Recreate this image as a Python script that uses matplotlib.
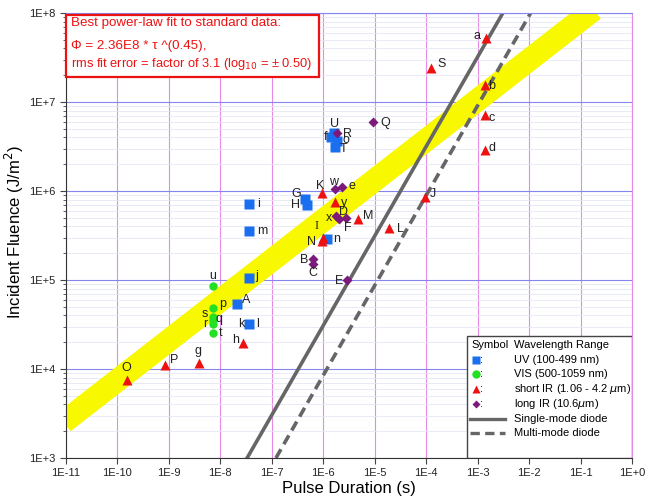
import numpy as np
import matplotlib
matplotlib.use("Agg")
import matplotlib.pyplot as plt
from matplotlib.lines import Line2D
from matplotlib.patches import Rectangle
from matplotlib.ticker import FixedLocator, FixedFormatter

plt.rcParams['font.family'] = ['Liberation Sans', 'DejaVu Sans']

# ---- data (pulse duration s, fluence J/m2) ----
uv_labels = ['i', 'm', 'j', 'A', 'k', 'G', 'H', 'U', 'f', 'o', 'T', 'n']
uv_tau = [3.6e-8, 3.6e-8, 3.6e-8, 2.08e-8, 3.6e-8, 4.4e-7, 4.8e-7, 1.62e-6, 1.42e-6, 1.85e-6, 1.69e-6, 1.18e-6]
uv_flu = [7.1e5, 3.56e5, 1.06e5, 5.33e4, 3.2e4, 8.1e5, 6.97e5, 4.49e6, 4.04e6, 3.65e6, 3.12e6, 2.89e5]

vis_labels = ['u', 'p', 's', 'q', 'r', 't']
vis_tau = [7.1e-9, 7.1e-9, 7.1e-9, 7.1e-9, 7.1e-9, 7.1e-9]
vis_flu = [8.63e4, 4.89e4, 3.84e4, 3.56e4, 3.21e4, 2.54e4]

sir_labels = ['O', 'P', 'g', 'h', 'K', 'y', 'M', 'L', 'I', 'N', 'a', 'S', 'b', 'c', 'd', 'J']
sir_tau = [1.51e-10, 8.5e-10, 3.8e-9, 2.79e-8, 9.57e-7, 1.69e-6, 4.8e-6, 1.92e-5, 9.9e-7, 9.5e-7,
           1.46e-3, 1.22e-4, 1.41e-3, 1.41e-3, 1.41e-3, 9.5e-5]
sir_flu = [7.5e3, 1.11e4, 1.16e4, 1.98e4, 9.57e5, 7.59e5, 4.81e5, 3.81e5, 2.95e5, 2.75e5,
           5.27e7, 2.39e7, 1.55e7, 7.15e6, 2.89e6, 8.63e5]

lir_labels = ['Q', 'R', 'w', 'e', 'x', 'D', 'F', 'B', 'C', 'E']
lir_tau = [9.4e-6, 1.87e-6, 1.69e-6, 2.34e-6, 1.77e-6, 2.02e-6, 2.77e-6, 6.41e-7, 6.41e-7, 2.86e-6]
lir_flu = [6.01e6, 4.45e6, 1.05e6, 1.12e6, 5.24e5, 4.84e5, 4.91e5, 1.71e5, 1.51e5, 1.0e5]

# power-law fit  Phi = 2.36E8 * tau^0.45
fit_coef = 2.36e8
fit_exp = 0.45
band_tau = [9e-12, 1.8e-1]

# diode damage lines
single_tau = [10 ** -7.48, 10 ** -2.51]
single_flu = [1e3, 1e8]
multi_tau = [10 ** -6.92, 10 ** -1.97]
multi_flu = [1e3, 1e8]

x_ticks = [10.0 ** e for e in range(-11, 1)]
x_ticklabels = ['1E-11', '1E-10', '1E-9', '1E-8', '1E-7', '1E-6', '1E-5', '1E-4',
                '1E-3', '1E-2', '1E-1', '1E+0']
y_ticks = [10.0 ** e for e in range(3, 9)]
y_ticklabels = ['1E+3', '1E+4', '1E+5', '1E+6', '1E+7', '1E+8']

# label offsets in pixels (dx, dy, ha)
offsets = {
    'i': (8, 0, 'left'), 'm': (8, 0, 'left'), 'j': (6, 2, 'left'), 'A': (5, 4, 'left'),
    'k': (-4, 0, 'right'),
    'G': (-4, 5, 'right'), 'H': (-7, 0, 'right'), 'U': (1, 9, 'center'), 'f': (-4, 0, 'right'),
    'o': (5, 1, 'left'), 'T': (5, -2, 'left'), 'n': (6, 0, 'left'),
    'u': (0, 10, 'center'), 'p': (6, 4, 'left'), 's': (-5, 3, 'right'), 'q': (3, 1, 'left'),
    'r': (-5, 0, 'right'), 't': (6, 0, 'left'),
    'O': (0, 12, 'center'), 'P': (5, 5, 'left'), 'g': (-1, 12, 'center'), 'h': (-4, 3, 'right'),
    'K': (-2, 7, 'center'), 'y': (6, -1, 'left'), 'M': (5, 3, 'left'), 'L': (8, -1, 'left'),
    'I': (-6, 12, 'center'), 'N': (-6, -1, 'right'), 'a': (-6, 2, 'right'), 'S': (7, 4, 'left'),
    'b': (3, -1, 'left'), 'c': (3, -3, 'left'), 'd': (3, 2, 'left'), 'J': (5, 3, 'left'),
    'Q': (7, -1, 'left'), 'R': (6, -1, 'left'), 'w': (-1, 7, 'center'), 'e': (6, 1, 'left'),
    'x': (-4, -2, 'right'), 'D': (5, 7, 'center'), 'F': (2, -10, 'center'), 'B': (-5, -1, 'right'),
    'C': (0, -9, 'center'), 'E': (-4, -1, 'right'),
}

c_uv = '#1a6ff0'
c_vis = '#22e022'
c_sir = '#ee1111'
c_lir = '#7b1a7b'
c_diode = '#666666'

fig = plt.figure(figsize=(6.53, 4.97), dpi=100)
ax = fig.add_axes([66 / 653, 1 - 458 / 497, 566 / 653, 445 / 497])
ax.set_xscale('log')
ax.set_yscale('log')
ax.set_xlim(1e-11, 1e0)
ax.set_ylim(1e3, 1e8)

ax.xaxis.grid(True, which='minor', color='#e9e4f0', lw=0.6)
ax.yaxis.grid(True, which='minor', color='#e4e6f4', lw=0.6)
ax.xaxis.grid(True, which='major', color='#e58ae5', lw=0.8)
ax.yaxis.grid(True, which='major', color='#8585ee', lw=0.8)
ax.set_axisbelow(True)

# yellow band
bt = np.array(band_tau)
ax.plot(bt, fit_coef * bt ** fit_exp, color='#f8f800', lw=16.5, solid_capstyle='butt', zorder=1.5)

ax.plot(single_tau, single_flu, color=c_diode, lw=2.6, zorder=2)
ax.plot(multi_tau, multi_flu, color=c_diode, lw=2.6, dashes=(2.8, 1.6), zorder=2)

ax.plot(vis_tau, vis_flu, 'o', color=c_vis, ms=6, mec='none', zorder=3)
ax.plot(uv_tau, uv_flu, 's', color=c_uv, ms=6.5, mec='none', zorder=3)
ax.plot(sir_tau, sir_flu, '^', color=c_sir, ms=7, mec='none', zorder=3)
ax.plot(lir_tau, lir_flu, 'D', color=c_lir, ms=4.8, mec='none', zorder=4)

def put_labels(labels, taus, flus):
    for lab, t, f in zip(labels, taus, flus):
        dx, dy, ha = offsets[lab]
        fam = ['Liberation Serif'] if lab == 'I' else None
        ax.annotate(lab, (t, f), xytext=(dx, dy), textcoords='offset pixels',
                    ha=ha, va='center', fontsize=9, color='#222222', family=fam, zorder=5)

put_labels(uv_labels, uv_tau, uv_flu)
put_labels(vis_labels, vis_tau, vis_flu)
put_labels(sir_labels, sir_tau, sir_flu)
put_labels(lir_labels, lir_tau, lir_flu)
# 'l' label next to square k
ax.annotate('l', (uv_tau[4], uv_flu[4]), xytext=(7, 0), textcoords='offset pixels',
            ha='left', va='center', fontsize=9, color='#222222')

ax.xaxis.set_major_locator(FixedLocator(x_ticks))
ax.xaxis.set_major_formatter(FixedFormatter(x_ticklabels))
ax.yaxis.set_major_locator(FixedLocator(y_ticks))
ax.yaxis.set_major_formatter(FixedFormatter(y_ticklabels))
ax.tick_params(which='both', labelsize=8, direction='out', color='#444444', labelcolor='#222222')
ax.tick_params(which='major', length=4)
ax.tick_params(which='minor', length=2)
for s in ['left', 'bottom']:
    ax.spines[s].set_color('#333333')
ax.spines['top'].set_color('#8585ee')
ax.spines['right'].set_color('#e58ae5')

ax.set_xlabel('Pulse Duration (s)', fontsize=12, labelpad=2)
ax.set_ylabel('Incident Fluence (J/m$^2$)', fontsize=12)
ax.yaxis.set_label_coords(-0.071, 0.507)

# fit annotation box
ax.add_patch(Rectangle((0.0, 0.857), 0.447, 0.139, transform=ax.transAxes,
                       fill=True, fc='white', ec='#ee1111', lw=1.6, zorder=6, clip_on=False))
ax.text(0.009, 0.978, 'Best power-law fit to standard data:', transform=ax.transAxes,
        fontsize=9.6, color='#ee1111', va='center', zorder=7)
ax.text(0.009, 0.926, '\u03a6 = 2.36E8 * \u03c4 ^(0.45),', transform=ax.transAxes,
        fontsize=9.6, color='#ee1111', va='center', zorder=7)
ax.text(0.009, 0.886, 'rms fit error = factor of 3.1 (log$_{10}$ = \u00b1 0.50)', transform=ax.transAxes,
        fontsize=9.3, color='#ee1111', va='center', zorder=7)

# legend box
lx0 = (467 - 66) / 566
ax.add_patch(Rectangle((lx0, 0.0), 1 - lx0, 0.274, transform=ax.transAxes,
                       fc='white', ec='#444444', lw=1.0, zorder=6))

def px2ax(px, py):
    return (px - 66) / 566, (458 - py) / 445

tx = px2ax(514, 0)[0]
ax.text(px2ax(471, 0)[0], px2ax(0, 345)[1], 'Symbol', transform=ax.transAxes,
        fontsize=8, va='center', zorder=7)
ax.text(tx, px2ax(0, 345)[1], 'Wavelength Range', transform=ax.transAxes,
        fontsize=8, va='center', zorder=7)
legend_rows = [('s', c_uv, 6, 'UV (100-499 nm)', 360),
               ('o', c_vis, 6, 'VIS (500-1059 nm)', 374),
               ('^', c_sir, 6, 'short IR (1.06 - 4.2 $\\mu$m)', 389),
               ('D', c_lir, 4.5, 'long IR (10.6$\\mu$m)', 404)]
for mk, col, ms, txt, py in legend_rows:
    mx, my = px2ax(476, py)
    ax.add_line(Line2D([mx], [my], marker=mk, color=col, ms=ms, mec='none',
                       transform=ax.transAxes, zorder=7))
    ax.text(px2ax(480, 0)[0], my, ':', transform=ax.transAxes, fontsize=8, va='center', zorder=7)
    ax.text(tx, my, txt, transform=ax.transAxes, fontsize=8, va='center', zorder=7)

for py, txt, dash in [(419, 'Single-mode diode', None), (433, 'Multi-mode diode', (2.8, 1.6))]:
    x0, y0 = px2ax(470, py)
    x1, _ = px2ax(505, py)
    ln = Line2D([x0, x1], [y0, y0], color=c_diode, lw=2.4, transform=ax.transAxes, zorder=7)
    if dash:
        ln.set_dashes(dash)
    ax.add_line(ln)
    ax.text(tx, y0, txt, transform=ax.transAxes, fontsize=8, va='center', zorder=7)

fig.savefig('out.png', dpi=100)
